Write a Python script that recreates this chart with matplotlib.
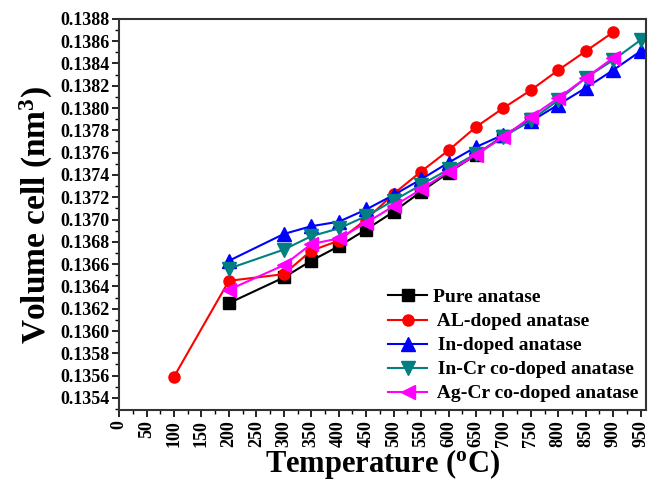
import matplotlib
matplotlib.use("Agg")
import matplotlib.pyplot as plt
from matplotlib.ticker import MultipleLocator, FormatStrFormatter

T_pure = [200, 300, 350, 400, 450, 500, 550, 600, 650, 700, 750]
V_pure = [0.13625, 0.13648, 0.13663, 0.13676, 0.13691, 0.13707, 0.13725, 0.13742, 0.13758, 0.13775, 0.13790]

T_al = [100, 200, 300, 350, 400, 450, 500, 550, 600, 650, 700, 750, 800, 850, 900]
V_al = [0.13559, 0.13645, 0.13651, 0.13672, 0.13681, 0.13700, 0.13723, 0.13743, 0.13762, 0.13783, 0.13800, 0.13816, 0.13834, 0.13851, 0.13868]

T_in = [200, 300, 350, 400, 450, 500, 550, 600, 650, 700, 750, 800, 850, 900, 950]
V_in = [0.13663, 0.13687, 0.13694, 0.13698, 0.13709, 0.13722, 0.13736, 0.13751, 0.13765, 0.13776, 0.13788, 0.13803, 0.13818, 0.13834, 0.13851]

T_incr = [200, 300, 350, 400, 450, 500, 550, 600, 650, 700, 750, 800, 850, 900, 950]
V_incr = [0.13656, 0.13673, 0.13685, 0.13692, 0.13703, 0.13717, 0.13731, 0.13745, 0.13759, 0.13774, 0.13789, 0.13807, 0.13827, 0.13843, 0.13861]

T_agcr = [200, 300, 350, 400, 450, 500, 550, 600, 650, 700, 750, 800, 850, 900]
V_agcr = [0.13637, 0.13659, 0.13678, 0.13683, 0.13697, 0.13712, 0.13727, 0.13743, 0.13758, 0.13774, 0.13792, 0.13809, 0.13827, 0.13845]

series = [
    ("Pure anatase", T_pure, V_pure, "black", "s", 8),
    (" AL-doped anatase", T_al, V_al, "red", "o", 8),
    (" In-doped anatase", T_in, V_in, "blue", "^", 9.5),
    (" In-Cr co-doped anatase", T_incr, V_incr, "#008080", "v", 9.5),
    (" Ag-Cr co-doped anatase", T_agcr, V_agcr, "magenta", "<", 9.5),
]

plt.rcParams['font.family'] = ['Liberation Serif', 'DejaVu Serif']
plt.rcParams['font.weight'] = 'bold'
plt.rcParams['mathtext.fontset'] = 'custom'
plt.rcParams['mathtext.rm'] = 'Liberation Serif:bold'
plt.rcParams['mathtext.bf'] = 'Liberation Serif:bold'

fig = plt.figure(figsize=(6.58, 4.82), dpi=100)
ax = fig.add_axes([0.181, 0.149, 0.801, 0.812])

for name, t, v, c, m, ms in series:
    ax.plot(t, v, color=c, marker=m, markersize=ms, linewidth=1.5, label=name)

ax.set_xlim(0, 960)
ax.set_ylim(0.13529, 0.1388)
ax.xaxis.set_major_locator(MultipleLocator(50))
ax.xaxis.set_minor_locator(MultipleLocator(25))
ax.yaxis.set_major_locator(MultipleLocator(0.0002))
ax.yaxis.set_minor_locator(MultipleLocator(0.0001))
ax.yaxis.set_major_formatter(FormatStrFormatter('%.4f'))

ax.tick_params(axis='both', which='major', direction='out', length=5, width=1.2, labelsize=13, pad=2)
ax.tick_params(axis='both', which='minor', direction='out', length=3, width=1.0)
ax.tick_params(top=False, right=False, which='both')
for lab in ax.get_xticklabels():
    lab.set_rotation(90)
    lab.set_fontweight('bold')
for lab in ax.get_yticklabels():
    lab.set_fontweight('bold')

for sp in ax.spines.values():
    sp.set_linewidth(1.5)
    sp.set_color('#333333')

ax.set_xlabel(r"Temperature ($\mathrm{^o}$C)", fontsize=22, fontweight='bold', labelpad=0)
ax.set_ylabel(r"Volume cell (nm$\mathrm{^3}$)", fontsize=24, fontweight='bold', labelpad=4)

ax.legend(loc='lower right', bbox_to_anchor=(1.0, 0.0), frameon=False, handlelength=2.0,
          handletextpad=0.3, borderaxespad=0.0, labelspacing=0.33,
          prop={'weight': 'bold', 'size': 14})

fig.savefig("out.png", dpi=100)
